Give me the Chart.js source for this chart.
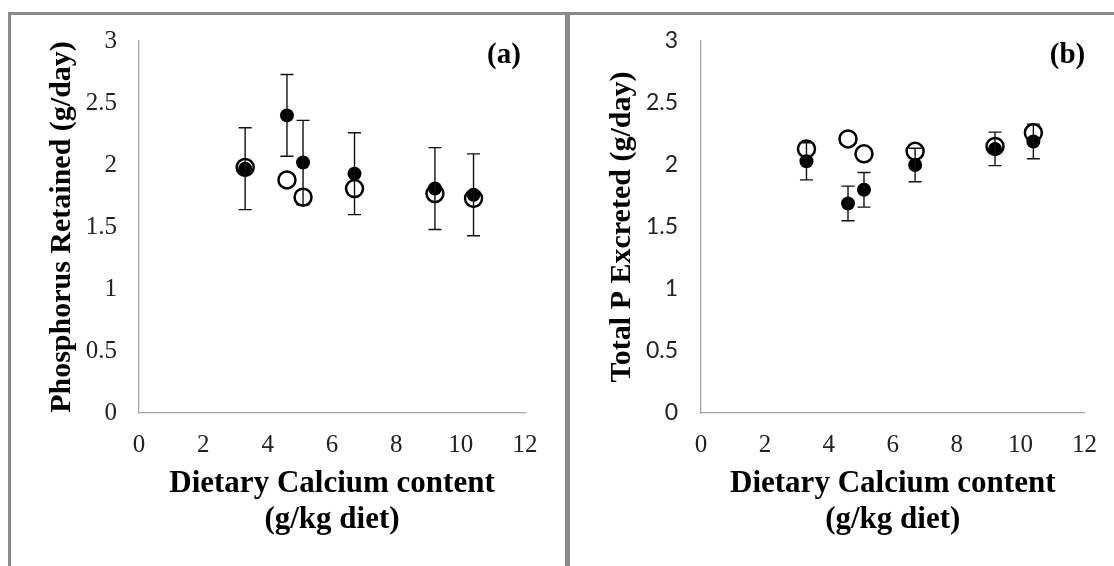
<!DOCTYPE html>
<html>
<head>
<meta charset="utf-8">
<script src="https://cdn.jsdelivr.net/npm/chart.js@4.4.1/dist/chart.umd.min.js"></script>
<style>
  html, body { margin: 0; padding: 0; background: #fff; }
  body { width: 1114px; height: 566px; position: relative; overflow: hidden; }
  #frame { position: absolute; left: 8px; top: 12px; width: 1106px; height: 560px;
           border-top: 3px solid #8a8a8a; border-left: 3px solid #8a8a8a; box-sizing: border-box; }
  #divider { position: absolute; left: 565px; top: 12px; width: 5px; height: 560px; background: #8a8a8a; }
  .panel { position: absolute; top: 15px; height: 551px; }
  #panelA { left: 11px; width: 554px; }
  #panelB { left: 570px; width: 544px; }
</style>
</head>
<body>
<div id="frame"></div>
<div id="divider"></div>
<div class="panel" id="panelA"><canvas id="chartA"></canvas></div>
<div class="panel" id="panelB"><canvas id="chartB"></canvas></div>
<script>
// Dietary calcium levels (g/kg diet)
var calcium = [3.3, 4.6, 5.1, 6.7, 9.2, 10.4];

// (a) phosphorus retained, g/day
var retainedFilled = [1.97, 2.40, 2.02, 1.93, 1.81, 1.76];
var retainedFilledErr = [0.33, 0.33, 0.34, 0.33, 0.33, 0.33];
var retainedOpen = [1.98, 1.88, 1.74, 1.81, 1.77, 1.73];

// (b) total P excreted, g/day
var excretedFilled = [2.03, 1.69, 1.80, 2.00, 2.13, 2.19];
var excretedFilledErr = [0.15, 0.14, 0.14, 0.135, 0.135, 0.14];
var excretedOpen = [2.13, 2.21, 2.09, 2.11, 2.15, 2.26];

var xTitle = ["Dietary Calcium content", "(g/kg diet)"];

function points(xs, ys) {
  return xs.map(function (x, i) { return { x: x, y: ys[i] }; });
}

// vertical error bars with caps for the filled series
var errorBars = {
  id: "errorBars",
  afterDatasetsDraw: function (chart, args, opts) {
    var ctx = chart.ctx;
    var xs = chart.scales.x, ys = chart.scales.y;
    var ds = chart.data.datasets[opts.dataset];
    ctx.save();
    ctx.strokeStyle = "#111";
    ctx.lineWidth = 1.4;
    ds.data.forEach(function (p, i) {
      var e = opts.errors[i];
      var px = xs.getPixelForValue(p.x);
      var top = ys.getPixelForValue(p.y + e);
      var bot = ys.getPixelForValue(p.y - e);
      ctx.beginPath();
      ctx.moveTo(px, top); ctx.lineTo(px, bot);
      ctx.moveTo(px - 6.5, top); ctx.lineTo(px + 6.5, top);
      ctx.moveTo(px - 6.5, bot); ctx.lineTo(px + 6.5, bot);
      ctx.stroke();
    });
    ctx.restore();
  }
};

// panel letter in the upper right corner
var panelTag = {
  id: "panelTag",
  afterDraw: function (chart, args, opts) {
    var ctx = chart.ctx, a = chart.chartArea;
    ctx.save();
    ctx.font = "bold 29px 'Liberation Serif'";
    ctx.fillStyle = "#000";
    ctx.textAlign = "center";
    ctx.textBaseline = "middle";
    ctx.fillText(opts.text, a.right - opts.dx, a.top + 15);
    ctx.restore();
  }
};

function makeChart(id, cfg) {
  return new Chart(document.getElementById(id), {
    type: "scatter",
    data: {
      datasets: [
        {
          label: "open",
          order: 2,
          data: points(calcium, cfg.open),
          pointStyle: "circle",
          pointRadius: 8.5,
          pointBackgroundColor: "#fff",
          pointBorderColor: "#000",
          pointBorderWidth: 2.5
        },
        {
          label: "filled",
          order: 1,
          data: points(calcium, cfg.filled),
          pointStyle: "circle",
          pointRadius: 7,
          pointBackgroundColor: "#000",
          pointBorderColor: "#000",
          pointBorderWidth: 0
        }
      ]
    },
    options: {
      responsive: true,
      maintainAspectRatio: false,
      animation: false,
      events: [],
      layout: { padding: { top: 26, right: cfg.padRight, left: 0, bottom: 0 } },
      plugins: {
        legend: { display: false },
        tooltip: { enabled: false },
        errorBars: { dataset: 1, errors: cfg.err },
        panelTag: { text: cfg.tag, dx: cfg.tagDx }
      },
      scales: {
        x: {
          type: "linear",
          min: 0, max: 12,
          afterFit: function (s) { s.height = 153; },
          grid: { display: false, drawTicks: false },
          border: { display: true, color: "#a6a6a6", width: 1.3 },
          ticks: {
            stepSize: 2, padding: 17, color: "#222",
            font: { family: "'Liberation Serif'", size: 25 }
          },
          title: {
            display: true, text: xTitle, color: "#000",
            font: { family: "'Liberation Serif'", size: 31, weight: "bold", lineHeight: 1.17 },
            padding: { top: 0, bottom: 28 }
          }
        },
        y: {
          type: "linear",
          min: 0, max: 3,
          afterFit: function (s) {
            s.width = cfg.yWidth;
            // keep the tick padding from pushing the plot top down
            s.paddingTop = 0;
            s.paddingBottom = 0;
          },
          grid: { display: false, drawTicks: false },
          border: { display: true, color: "#a6a6a6", width: 1.3 },
          ticks: {
            stepSize: 0.5, padding: cfg.yPad, color: "#222",
            font: cfg.yFont,
            callback: function (v) { return String(v); }
          },
          title: {
            display: true, text: cfg.yTitle, color: "#000",
            font: { family: "'Liberation Serif'", size: 30, weight: "bold", lineHeight: 1.2 },
            padding: { top: cfg.yTitlePad, bottom: 0 }
          }
        }
      }
    },
    plugins: [errorBars, panelTag]
  });
}

makeChart("chartA", {
  open: retainedOpen, filled: retainedFilled, err: retainedFilledErr,
  tag: "(a)", tagDx: 21, padRight: 40, yWidth: 128, yPad: 22, yTitlePad: 33,
  yTitle: "Phosphorus Retained (g/day)",
  yFont: { family: "'Liberation Serif'", size: 25 }
});

makeChart("chartB", {
  open: excretedOpen, filled: excretedFilled, err: excretedFilledErr,
  tag: "(b)", tagDx: 17, padRight: 29, yWidth: 131, yPad: 23, yTitlePad: 34,
  yTitle: "Total P Excreted (g/day)",
  yFont: { family: "Lato", size: 23 }
});
</script>
</body>
</html>
